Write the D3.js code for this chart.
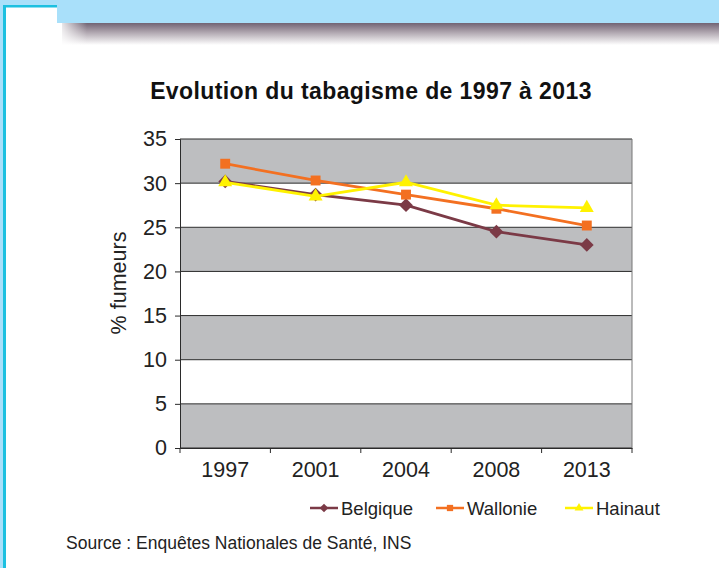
<!DOCTYPE html>
<html>
<head>
<meta charset="utf-8">
<script src="https://cdn.jsdelivr.net/npm/d3@7"></script>
<style>
  body { margin: 0; background: #fff; }
  svg { display: block; font-family: "Liberation Sans", Arial, sans-serif; }
</style>
</head>
<body>
<div id="chart"></div>
<script>
const YEARS = ["1997", "2001", "2004", "2008", "2013"];
const BELGIQUE = [30.2, 28.7, 27.5, 24.5, 23.0];
const WALLONIE = [32.2, 30.3, 28.7, 27.1, 25.2];
const HAINAUT = [30.1, 28.5, 30.1, 27.5, 27.2];
const Y_TICKS = [0, 5, 10, 15, 20, 25, 30, 35];

const SERIES = [
    {name: "Belgique", values: BELGIQUE, color: "#7b3a46", symbol: d3.symbolDiamond2, size: 120},
    {name: "Wallonie", values: WALLONIE, color: "#f37021", symbol: d3.symbolSquare2, size: 125},
    {name: "Hainaut", values: HAINAUT, color: "#fff200", symbol: d3.symbolTriangle2, size: 140}
];

const W = 719, H = 568;
const PLOT = {left: 180, right: 632, top: 139, bottom: 448};

const svg = d3.select("#chart")
    .append("svg")
        .attr("width", W)
        .attr("height", H);

// page frame
const defs = svg.append("defs");
const shade = defs.append("linearGradient")
    .attr("id", "shade")
    .attr("x1", 0).attr("y1", 0).attr("x2", 0).attr("y2", 1);
shade.append("stop").attr("offset", "0%").attr("stop-color", "#726474");
shade.append("stop").attr("offset", "45%").attr("stop-color", "#b3aab3");
shade.append("stop").attr("offset", "100%").attr("stop-color", "#ffffff");
const shadeLeft = defs.append("linearGradient")
    .attr("id", "shadeLeft")
    .attr("x1", 0).attr("y1", 0).attr("x2", 1).attr("y2", 0);
shadeLeft.append("stop").attr("offset", "0%").attr("stop-color", "#fff").attr("stop-opacity", 1);
shadeLeft.append("stop").attr("offset", "100%").attr("stop-color", "#fff").attr("stop-opacity", 0);

svg.append("rect").attr("x", 62).attr("y", 23).attr("width", W - 62).attr("height", 22)
    .attr("fill", "url(#shade)");
svg.append("rect").attr("x", 57).attr("y", 23).attr("width", 30).attr("height", 22)
    .attr("fill", "url(#shadeLeft)");
svg.append("rect").attr("x", 0).attr("y", 0).attr("width", W).attr("height", 5).attr("fill", "#a9e0fa");
svg.append("rect").attr("x", 0).attr("y", 0).attr("width", 3).attr("height", H).attr("fill", "#a9e0fa");
svg.append("rect").attr("x", 57).attr("y", 0).attr("width", W - 57).attr("height", 23).attr("fill", "#a9e0fa");
svg.append("rect").attr("x", 3).attr("y", 5).attr("width", 54).attr("height", 2.5).attr("fill", "#1cc0e0");
svg.append("rect").attr("x", 3).attr("y", 5).attr("width", 3).attr("height", H - 5).attr("fill", "#1cc0e0");

// scales
const x = d3.scaleBand()
    .domain(YEARS)
    .range([PLOT.left, PLOT.right]);

const y = d3.scaleLinear()
    .domain([0, 35])
    .range([PLOT.bottom, PLOT.top]);

// alternating bands
const bands = d3.pairs(Y_TICKS);
svg.append("g").selectAll("rect")
    .data(bands)
    .join("rect")
        .attr("x", PLOT.left)
        .attr("y", d => y(d[1]))
        .attr("width", PLOT.right - PLOT.left)
        .attr("height", d => y(d[0]) - y(d[1]))
        .attr("fill", (d, i) => i % 2 === 0 ? "#bdbec0" : "#ffffff");

// gridlines
svg.append("g").selectAll("line")
    .data(Y_TICKS)
    .join("line")
        .attr("x1", PLOT.left)
        .attr("x2", PLOT.right)
        .attr("y1", d => y(d))
        .attr("y2", d => y(d))
        .attr("stroke", "#2b2b2b")
        .attr("stroke-width", 1);

svg.append("line")
    .attr("x1", PLOT.right).attr("x2", PLOT.right)
    .attr("y1", PLOT.top).attr("y2", PLOT.bottom)
    .attr("stroke", "#777").attr("stroke-width", 1);

// axes
const yAxis = svg.append("g")
    .attr("transform", `translate(${PLOT.left}, 0)`)
    .call(d3.axisLeft(y).tickValues(Y_TICKS).tickSize(5).tickPadding(8));

const xAxis = svg.append("g")
    .attr("transform", `translate(0, ${PLOT.bottom})`)
    .call(d3.axisBottom(x).tickSize(0).tickPadding(14));

// x ticks between categories
xAxis.selectAll(".sep")
    .data([...YEARS.map(d => x(d)), PLOT.right])
    .join("line")
        .attr("class", "sep")
        .attr("x1", d => d).attr("x2", d => d)
        .attr("y1", 0).attr("y2", 5)
        .attr("stroke", "#2b2b2b");

[yAxis, xAxis].forEach(g => {
    g.select(".domain").attr("stroke", "#2b2b2b");
    g.selectAll(".tick line").attr("stroke", "#2b2b2b");
    g.selectAll("text")
        .attr("font-family", "Liberation Sans, Arial, sans-serif")
        .attr("font-size", 21.5)
        .attr("fill", "#222");
});

svg.append("text")
    .attr("x", -283)
    .attr("y", 126)
    .attr("transform", "rotate(-90)")
    .attr("text-anchor", "middle")
    .attr("font-size", 21.5)
    .attr("fill", "#222")
    .text("% fumeurs");

// title
svg.append("text")
    .attr("x", 371)
    .attr("y", 99)
    .attr("text-anchor", "middle")
    .attr("font-size", 23)
    .attr("font-weight", "bold")
    .attr("letter-spacing", 0.4)
    .attr("fill", "#111")
    .text("Evolution du tabagisme de 1997 à 2013");

// lines and markers
const cx = d => x(d) + x.bandwidth() / 2;

SERIES.forEach(s => {
    const pts = YEARS.map((yr, i) => [cx(yr), y(s.values[i])]);
    svg.append("path")
        .datum(pts)
        .attr("fill", "none")
        .attr("stroke", s.color)
        .attr("stroke-width", 2.8)
        .attr("d", d3.line());
    svg.append("g").selectAll("path")
        .data(pts)
        .join("path")
            .attr("transform", d => `translate(${d[0]}, ${d[1]})`)
            .attr("d", d3.symbol().type(s.symbol).size(s.size))
            .attr("fill", s.color);
});

// legend
const LEGEND_X = [310, 436, 565];
const legend = svg.append("g")
    .selectAll("g")
    .data(SERIES)
    .join("g")
        .attr("transform", (d, i) => `translate(${LEGEND_X[i]}, 508)`);

legend.append("line")
    .attr("x1", 0).attr("x2", 28)
    .attr("stroke", d => d.color)
    .attr("stroke-width", 2.5);
legend.append("path")
    .attr("transform", "translate(14, 0)")
    .attr("d", d => d3.symbol().type(d.symbol).size(d.size * 0.4)())
    .attr("fill", d => d.color);
legend.append("text")
    .attr("x", 31)
    .attr("y", 6.5)
    .attr("font-size", 18.5)
    .attr("fill", "#222")
    .text(d => d.name);

svg.append("text")
    .attr("x", 66)
    .attr("y", 549)
    .attr("font-size", 17.5)
    .attr("fill", "#222")
    .text("Source : Enquêtes Nationales de Santé, INS");
</script>
</body>
</html>
